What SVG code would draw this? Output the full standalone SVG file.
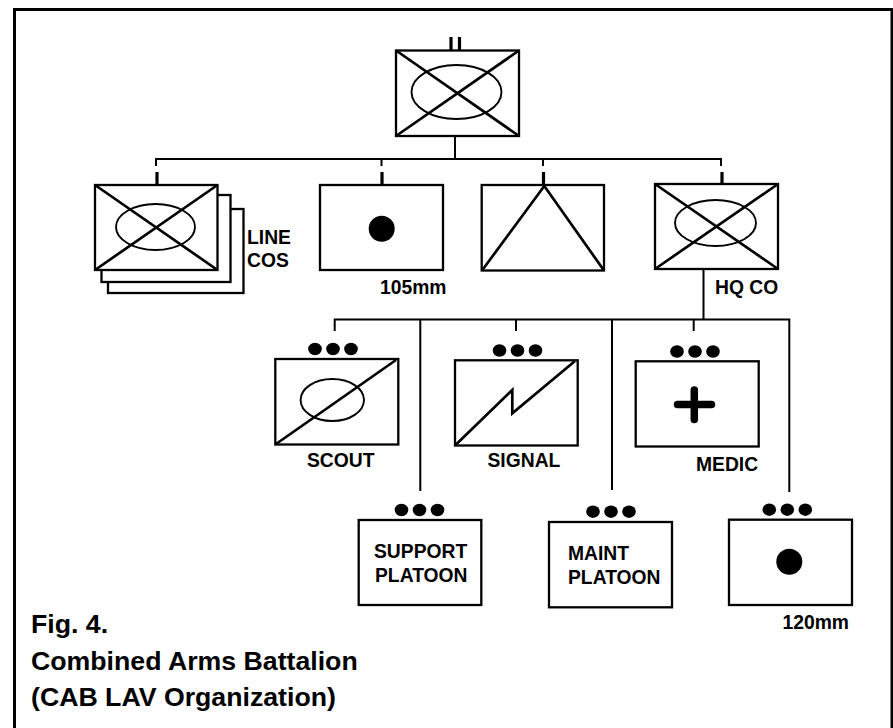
<svg xmlns="http://www.w3.org/2000/svg" width="893" height="728" viewBox="0 0 893 728">
<style>
.box{fill:#fff;stroke:#000;stroke-width:2.3}
.diag{fill:none;stroke:#000;stroke-width:2.7}
.oval{fill:none;stroke:#000;stroke-width:1.9}
.line{fill:none;stroke:#000;stroke-width:2}
.thick{fill:none;stroke:#000;stroke-width:3.2}
.dot{fill:#000;stroke:none}
text{font-family:"Liberation Sans",Arial,sans-serif;font-weight:bold;fill:#000;font-size:19.3px}
.cap{font-size:26.7px}
</style>
<defs>
<g id="dots"><ellipse class="dot" cx="-18" cy="0" rx="6.8" ry="6.2"/><ellipse class="dot" cx="0" cy="0" rx="6.8" ry="6.2"/><ellipse class="dot" cx="18" cy="0" rx="6.8" ry="6.2"/></g>
</defs>
<rect width="893" height="728" fill="#fff"/>
<path id="frame" d="M14.5 728V9.5H892V728" fill="none" stroke="#000" stroke-width="3"/>
<g id="connectors">
<path class="line" d="M455 136V159M156 166V159H721V166M381.5 159V166M543 159V166"/>
<path class="thick" d="M157 172V185M382 172V185M543.5 172V185M722 172V184"/>
<path class="line" d="M703.5 269V319.5M334.7 331V319.5H789.3V492M420.3 319.5V491M516 319.5V331M612 319.5V490M693.7 319.5V331"/>
</g>
<g id="battalion">
<path class="thick" d="M451 37V50M459.500 37V50"/>
<rect class="box" x="396" y="50.500" width="123" height="85.500"/>
<path class="diag" d="M396 50.500L519 136M519 50.500L396 136"/>
<ellipse class="oval" cx="456.500" cy="92" rx="45" ry="27"/>
</g>
<g id="line-cos">
<rect class="box" x="108" y="209" width="135.500" height="84"/>
<rect class="box" x="101.500" y="195" width="129" height="87"/>
<rect class="box" x="95" y="185" width="122.500" height="85"/>
<path class="diag" d="M95 185L217.500 270M217.500 185L95 270"/>
<ellipse class="oval" cx="155.500" cy="227" rx="39.500" ry="23"/>
<text x="247" y="243.500">LINE</text>
<text x="247" y="266.500">COS</text>
</g>
<g id="co-105mm">
<rect class="box" x="320" y="185" width="123" height="85"/>
<circle class="dot" cx="381.700" cy="228.700" r="13"/>
<text x="380" y="294">105mm</text>
</g>
<g id="engineer">
<rect class="box" x="481.700" y="185" width="122.300" height="85.500"/>
<path class="diag" d="M482 270.500L544.300 186L604 270.500"/>
</g>
<g id="hq-co">
<rect class="box" x="655" y="184" width="123" height="85"/>
<path class="diag" d="M655 184L778 269M778 184L655 269"/>
<ellipse class="oval" cx="715.500" cy="223" rx="40.500" ry="23"/>
<text x="715" y="294">HQ CO</text>
</g>
<g id="scout">
<use href="#dots" x="333" y="349"/>
<rect class="box" x="275.300" y="359" width="123" height="85.500"/>
<path class="diag" d="M275.300 444.500L396 360"/>
<ellipse class="oval" cx="332.300" cy="400" rx="31.700" ry="21"/>
<text x="307" y="467">SCOUT</text>
</g>
<g id="signal">
<use href="#dots" x="517.500" y="350.500"/>
<rect class="box" x="455" y="360.300" width="122.700" height="85.200"/>
<path class="diag" d="M455 445.500L512.300 390V413.300L575 361"/>
<text x="487.500" y="467">SIGNAL</text>
</g>
<g id="medic">
<use href="#dots" x="695" y="351.500"/>
<rect class="box" x="635.700" y="361.300" width="123" height="85.200"/>
<path d="M677.500 404.500H711.500M694.300 390V419.500" fill="none" stroke="#000" stroke-width="7.500" stroke-linecap="round"/>
<text x="696" y="470.500">MEDIC</text>
</g>
<g id="support">
<use href="#dots" x="419.500" y="510"/>
<rect class="box" x="358.700" y="520" width="122.600" height="85"/>
<text x="374" y="557.500">SUPPORT</text>
<text x="375" y="581.500">PLATOON</text>
</g>
<g id="maint">
<use href="#dots" x="611" y="511.700"/>
<rect class="box" x="549" y="522" width="123" height="85.300"/>
<text x="568" y="560">MAINT</text>
<text x="568" y="583.500">PLATOON</text>
</g>
<g id="mortar-120mm">
<use href="#dots" x="787.300" y="509.700"/>
<rect class="box" x="729" y="519.700" width="123" height="85.300"/>
<circle class="dot" cx="789.300" cy="561.700" r="13"/>
<text x="782.500" y="628.500">120mm</text>
</g>
<g id="caption">
<text class="cap" x="31" y="632.500">Fig. 4.</text>
<text class="cap" x="31" y="669.500">Combined Arms Battalion</text>
<text class="cap" x="31" y="706">(CAB LAV Organization)</text>
</g>
</svg>
